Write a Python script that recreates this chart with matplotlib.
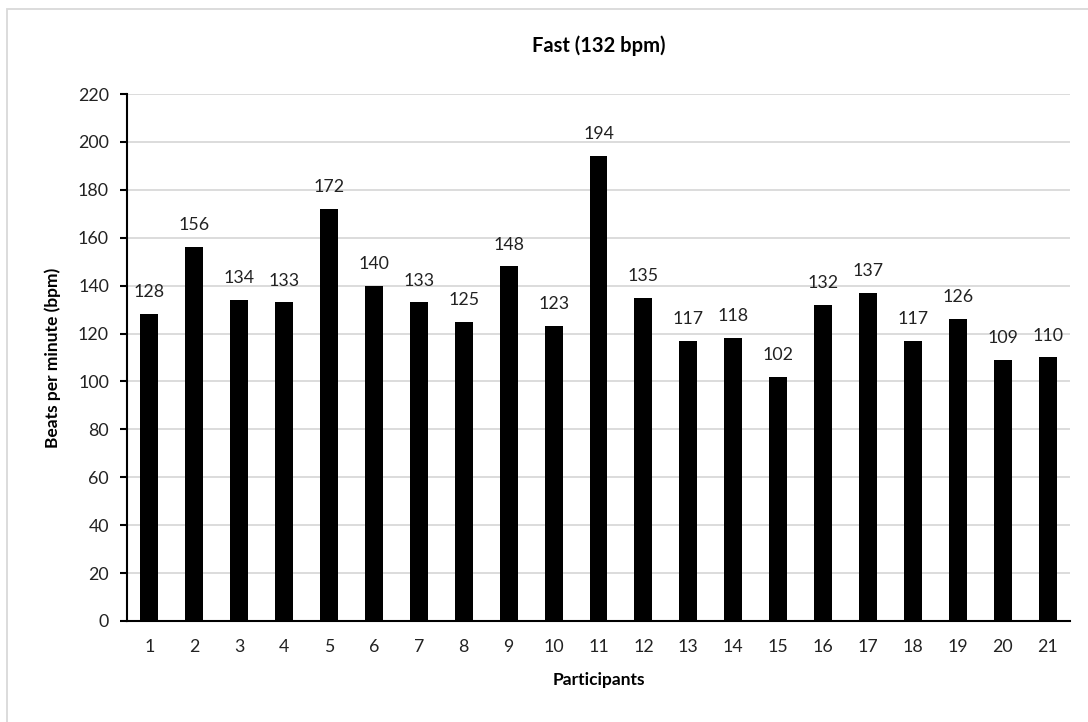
import numpy as np
import matplotlib
matplotlib.use('Agg')
from matplotlib import pyplot as plt
from matplotlib.patches import Rectangle

participants = [str(i) for i in range(1, 22)]
bpm = [128, 156, 134, 133, 172, 140, 133, 125, 148, 123, 194,
       135, 117, 118, 102, 132, 137, 117, 126, 109, 110]

plt.rcParams['font.family'] = ['Lato', 'DejaVu Sans']

fig = plt.figure(figsize=(10.88, 7.22), dpi=100)
ax = fig.add_axes([0.1167, 0.1399, 0.8668, 0.7299])

x = np.arange(len(participants))
ax.bar(x, bpm, width=0.4, color='black', zorder=3)
for xi, v in zip(x, bpm):
    ax.annotate(str(v), (xi, v), xytext=(0, 10), textcoords='offset points',
                ha='center', va='bottom', fontsize=12.8, color='#222222')

ax.set_xlim(-0.5, len(participants) - 0.5)
ax.set_ylim(0, 220)
ax.set_yticks(range(0, 221, 20))
ax.set_xticks(x)
ax.set_xticklabels(participants)
ax.tick_params(axis='x', length=0, pad=13, labelsize=12.8, labelcolor='#222222')
ax.tick_params(axis='y', length=5, width=1.5, labelsize=12.8, pad=8, labelcolor='#222222')
ax.grid(axis='y', color='#d9d9d9', linewidth=1.3, zorder=0)
for s in ['top', 'right']:
    ax.spines[s].set_visible(False)
ax.spines['left'].set_linewidth(1.5)
ax.spines['bottom'].set_linewidth(1.5)

ax.set_title('Fast (132 bpm)', fontsize=14.5, fontweight='bold', pad=30)
ax.set_xlabel('Participants', fontsize=12.5, fontweight='bold', labelpad=12)
ax.set_ylabel('Beats per minute (bpm)', fontsize=12.5, fontweight='bold', labelpad=12)

# light chart-area border (only left and top edges fall inside the image)
fig.patches.append(Rectangle((7 / 1088, -0.05), 1.1, 1.05 - 9 / 722,
                             transform=fig.transFigure, fill=False,
                             edgecolor='#d9d9d9', linewidth=1.3))

plt.savefig('out.png')
